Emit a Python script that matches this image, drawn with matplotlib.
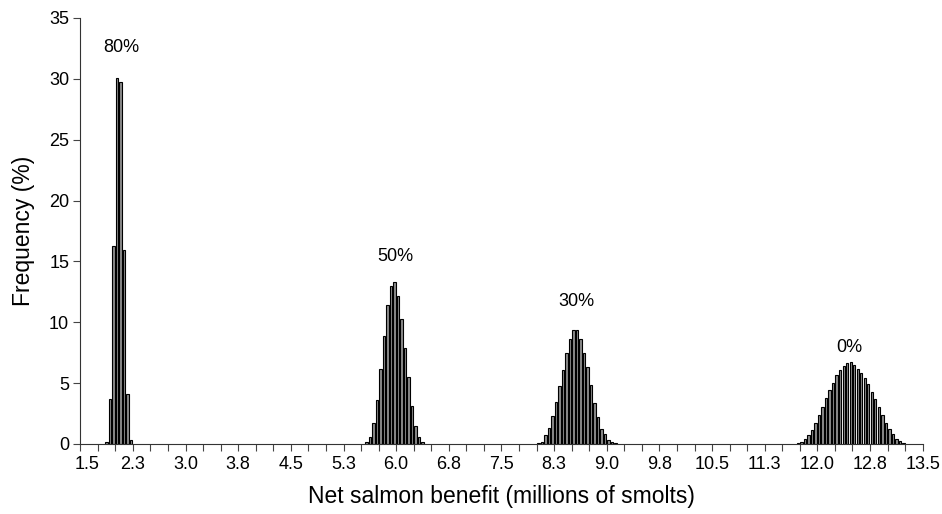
import numpy as np
import matplotlib
matplotlib.use("Agg")
import matplotlib.pyplot as plt
import matplotlib.transforms as mtransforms

plt.rcParams['font.family'] = ['Liberation Sans', 'DejaVu Sans']

BIN = 0.05  # width of each benefit class (millions of smolts)

# Frequency (%) per benefit class for each scenario; first class centre given
start_80 = 1.875
freq_80 = [0.2, 3.7, 16.3, 30.1, 29.7, 15.9, 4.1, 0.3]

start_50 = 5.575
freq_50 = [0.15, 0.55, 1.7, 3.6, 6.2, 8.9, 11.4, 13.0, 13.3, 12.2, 10.3,
           7.9, 5.5, 3.1, 1.5, 0.55, 0.15]

start_30 = 8.025
freq_30 = [0.1, 0.2, 0.7, 1.3, 2.3, 3.45, 4.75, 6.1, 7.5, 8.6, 9.4, 9.4,
           8.65, 7.5, 6.3, 4.85, 3.4, 2.25, 1.2, 0.8, 0.33, 0.15, 0.08]

start_0 = 11.725
freq_0 = [0.08, 0.2, 0.4, 0.75, 1.15, 1.7, 2.35, 3.05, 3.75, 4.4, 5.05,
          5.65, 6.05, 6.4, 6.65, 6.7, 6.5, 6.2, 5.8, 5.4, 4.9, 4.3, 3.7,
          3.05, 2.4, 1.75, 1.2, 0.8, 0.45, 0.25, 0.1]

scenario_labels = ["80%", "50%", "30%", "0%"]
label_pos = [(2.09, 32.6), (5.99, 15.4), (8.57, 11.7), (12.45, 7.95)]

xtick_values = [1.5, 2.25, 3.0, 3.75, 4.5, 5.25, 6.0, 6.75, 7.5, 8.25, 9.0,
                9.75, 10.5, 11.25, 12.0, 12.75, 13.5]
xtick_labels = ["1.5", "2.3", "3.0", "3.8", "4.5", "5.3", "6.0", "6.8", "7.5",
                "8.3", "9.0", "9.8", "10.5", "11.3", "12.0", "12.8", "13.5"]
ytick_values = [0, 5, 10, 15, 20, 25, 30, 35]

fig = plt.figure(figsize=(9.42, 5.14), dpi=100)
ax = fig.add_axes([0.0852, 0.1362, 0.9795 - 0.0852, 0.965 - 0.1362])

for start, freq in [(start_80, freq_80), (start_50, freq_50),
                    (start_30, freq_30), (start_0, freq_0)]:
    centres = start + BIN * np.arange(len(freq))
    ax.bar(centres, freq, width=0.034, facecolor="#8c8c8c",
           edgecolor="black", linewidth=0.8)

for text, (x, y) in zip(scenario_labels, label_pos):
    ax.text(x, y, text, ha="center", va="center", fontsize=13)

ax.set_xlim(1.5, 13.5)
ax.set_ylim(0, 35)

ax.set_xticks(np.arange(1.5, 13.51, 0.25), minor=True)
ax.set_xticks(xtick_values)
ax.set_xticklabels(xtick_labels, fontsize=13)
ax.set_yticks(ytick_values)
ax.set_yticklabels([str(v) for v in ytick_values], fontsize=13)

ax.tick_params(axis="x", which="both", direction="out", length=5,
               width=0.8, color="#444444", pad=4)
ax.tick_params(axis="y", direction="out", length=5, width=0.8,
               color="#444444", pad=3)

# shift the first x label slightly right so it clears the y-axis zero
first = ax.get_xticklabels()[0]
first.set_transform(first.get_transform() +
                    mtransforms.ScaledTranslation(7 / 100, 0, fig.dpi_scale_trans))

for side in ("top", "right"):
    ax.spines[side].set_visible(False)
for side in ("left", "bottom"):
    ax.spines[side].set_linewidth(0.8)
    ax.spines[side].set_color("#333333")

ax.set_xlabel("Net salmon benefit (millions of smolts)", fontsize=16.5, labelpad=8)
ax.set_ylabel("Frequency (%)", fontsize=16.5, labelpad=10)

fig.savefig("out.png", dpi=100)
